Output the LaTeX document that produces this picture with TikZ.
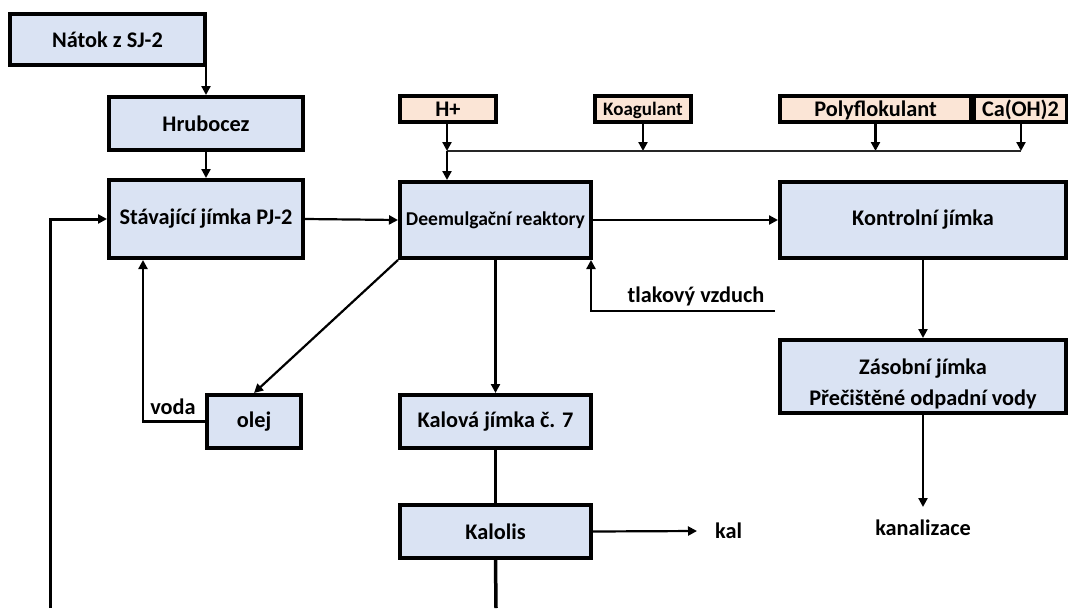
\documentclass[tikz,border=0pt]{standalone}
\usepackage{fontspec}
\setmainfont{Carlito}
\usetikzlibrary{arrows.meta,calc}
\definecolor{boxblue}{HTML}{DAE3F3}
\definecolor{boxpeach}{HTML}{FBE5D6}
\tikzset{
  box/.style={draw=black, line width=4pt, fill=boxblue, inner sep=0pt, font=\fontsize{22.3}{26}\selectfont\bfseries},
  rbox/.style={draw=black, line width=3.5pt, fill=boxpeach, inner sep=0pt, minimum height=26pt, text height=14.4pt, text depth=0pt, font=\fontsize{22.3}{26}\selectfont\bfseries},
  lbl/.style={inner sep=0pt, font=\fontsize{22.3}{26}\selectfont\bfseries},
  arr/.style={line width=2.2pt, -{Triangle[length=9pt,width=9pt]}},
  ln/.style={line width=3.5pt},
}
\begin{document}
\begin{tikzpicture}[x=1pt,y=-1pt]
\useasboundingbox (0,0) rectangle (1070,608);
% main boxes
\node[box, minimum width=195pt, minimum height=51pt] (natok) at (107.5,39.5) {Nátok z SJ-2};
\node[box, minimum width=194pt, minimum height=53pt] (hrub) at (206,123.5) {Hrubocez};
\node[box, minimum width=194pt, minimum height=78pt] (stav) at (206,219) {Stávající jímka PJ-2};
\node[box, minimum width=191pt, minimum height=76pt] (deem) at (495.5,220) {\fontsize{19.6}{22}\selectfont Deemulgační reaktory};
\node[box, minimum width=286pt, minimum height=76pt] (kont) at (923,220) {Kontrolní jímka};
\node[box, minimum width=286pt, minimum height=73pt] (zas) at (923,376.5) {};
\node[lbl] (zas1) at (923,369) {Zásobní jímka};
\node[lbl] (zas2) at (923,399) {Přečištěné odpadní vody};
\node[box, minimum width=94pt, minimum height=53pt] (olej) at (254,421.5) {olej};
\node[box, minimum width=191pt, minimum height=53pt] (kalova) at (495.5,421.5) {Kalová jímka č. 7};
\node[box, minimum width=191pt, minimum height=53pt] (kalolis) at (495.5,531.5) {Kalolis};
% reagent boxes
\node[rbox, minimum width=96pt] (hplus) at (448,109) {H+};
\node[rbox, minimum width=96pt, text height=12.2pt, font=\fontsize{19}{21}\selectfont\bfseries] (koag) at (643,109) {Koagulant};
\node[rbox, minimum width=191pt] (poly) at (875.5,109) {Polyflokulant};
\node[rbox, minimum width=92pt] (caoh) at (1020.5,109) {Ca(OH)2};
% labels
\node[lbl] (air) at (696,296) {tlakový vzduch};
\node[lbl] (voda) at (173,407) {voda};
\node[lbl, anchor=west] (kal) at (715,531) {kal};
\node[lbl] (kanal) at (923,528) {kanalizace};
% helper coordinates
\coordinate (busL) at (447,151);
\coordinate (busR) at (1021,151);
\coordinate (airend) at (775,311);
\coordinate (fb0) at (50,608);
\coordinate (bot) at (496,608);
\coordinate (kanaltop) at (923,507);
\coordinate (kaltip) at (697,531);
% connectors
\draw[arr] (hrub.north |- natok.south) -- (hrub.north);
\draw[arr] (hrub.south) -- (stav.north);
\draw[arr] (stav.east) -- (deem.west);
\draw[arr] (deem.east) -- (kont.west);
\draw[arr] (hplus.south -| busL) -- (busL);
\draw[arr] (koag.south) -- (koag.south |- busL);
\draw[arr] (poly.south) -- (poly.south |- busL);
\draw[arr] (caoh.south -| busR) -- (busR);
\draw[line width=2pt, draw=black!85] (busL) -- (busR);
\draw[arr] (busL) -- (busL |- deem.north);
\draw[arr] (deem.south west) -- (olej.north);
\draw[arr] (deem.south) -- (kalova.north);
\draw[arr] (airend) -| ([xshift=-2pt]deem.south east);
\draw[arr] (olej.west) -| ([xshift=-63pt]stav.south);
\draw[ln] (kalova.south) -- (kalolis.north);
\draw[ln] (kalolis.south) -- (bot);
\draw[arr] (kalolis.east) -- (kaltip);
\draw[arr] (kont.south) -- (zas.north);
\draw[arr] (zas.south) -- (kanaltop);
\draw[line width=3pt, -{Triangle[length=9pt,width=9pt]}] (fb0) |- (stav.west);
\end{tikzpicture}
\end{document}
